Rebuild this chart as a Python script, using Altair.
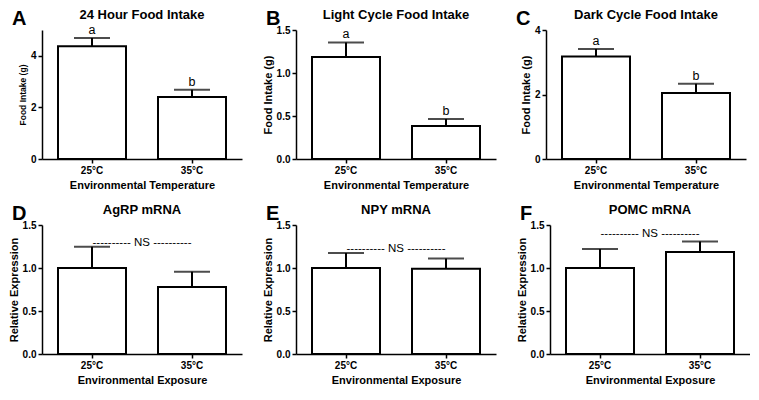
import altair as alt
import pandas as pd

FONT = "Liberation Sans"

groups = ["25°C", "35°C"]

letters_panel = ["A", "B", "C", "D", "E", "F"]
titles = ["24 Hour Food Intake", "Light Cycle Food Intake", "Dark Cycle Food Intake",
          "AgRP mRNA", "NPY mRNA", "POMC mRNA"]
y_titles = ["Food Intake (g)", "Food Intake (g)", "Food Intake (g)",
            "Relative Expression", "Relative Expression", "Relative Expression"]
x_titles = ["Environmental Temperature"] * 3 + ["Environmental Exposure"] * 3

means = [
    [4.37, 2.40],
    [1.186, 0.384],
    [3.18, 2.05],
    [1.00, 0.778],
    [1.00, 0.99],
    [1.00, 1.185],
]
err_top = [
    [4.69, 2.68],
    [1.356, 0.466],
    [3.41, 2.33],
    [1.248, 0.956],
    [1.174, 1.11],
    [1.222, 1.307],
]
sig_letters = [["a", "b"], ["a", "b"], ["a", "b"], None, None, None]
ns_level = [None, None, None, 1.296, 1.222, 1.39]
y_max = [5, 1.5, 4, 1.5, 1.5, 1.5]
y_ticks = [[0, 1, 2, 3, 4, 5], [0, 0.5, 1.0, 1.5], [0, 1, 2, 3, 4],
           [0, 0.5, 1.0, 1.5], [0, 0.5, 1.0, 1.5], [0, 0.5, 1.0, 1.5]]
y_fmt = ["d", ".1f", "d", ".1f", ".1f", ".1f"]
y_title_size = [8.5, 11, 11, 11, 11, 11]

W, H = 200, 129


def panel(i):
    df = pd.DataFrame({"group": groups, "mean": means[i], "err": err_top[i]})
    if sig_letters[i]:
        df["sig"] = sig_letters[i]
    x = alt.X("group:N", sort=groups,
              scale=alt.Scale(paddingInner=0.32, paddingOuter=0.16),
              axis=alt.Axis(title=x_titles[i], labelAngle=0))
    yscale = alt.Scale(domain=[0, y_max[i]], nice=False)
    base = alt.Chart(df).encode(x=x)
    bars = base.mark_bar(fill="white", stroke="black", strokeWidth=2).encode(
        y=alt.Y("mean:Q", scale=yscale,
                axis=alt.Axis(title=y_titles[i], values=y_ticks[i], format=y_fmt[i],
                              titleFontSize=y_title_size[i])))
    rule = base.mark_rule(color="black", strokeWidth=2).encode(
        y="mean:Q", y2="err:Q")
    cap = base.mark_tick(color="black", thickness=2, size=36).encode(y="err:Q")
    layers = [rule, cap, bars]
    if sig_letters[i]:
        layers.append(base.mark_text(baseline="bottom", dy=-1, fontSize=12.5,
                                     font=FONT, color="black").encode(
            y="err:Q", text="sig:N"))
    if ns_level[i] is not None:
        ns_df = pd.DataFrame({"lvl": [ns_level[i]], "t": ["---------- NS ----------"]})
        layers.append(alt.Chart(ns_df).mark_text(fontSize=11.5, font=FONT,
                                                 color="black").encode(
            x=alt.value(W / 2), y="lvl:Q", text="t:N"))
    head_df = pd.DataFrame({"letter": [letters_panel[i]], "title": [titles[i]]})
    layers.append(alt.Chart(head_df).mark_text(
        fontSize=20, fontWeight="bold", font=FONT, align="left", baseline="middle",
        color="black").encode(
        x=alt.value(-30), y=alt.value(-11), text="letter:N"))
    layers.append(alt.Chart(head_df).mark_text(
        fontSize=13, fontWeight="bold", font=FONT, align="center", baseline="middle",
        color="black").encode(
        x=alt.value(W / 2), y=alt.value(-15), text="title:N"))
    return alt.layer(*layers).properties(width=W, height=H)


row1 = alt.hconcat(panel(0), panel(1), panel(2), spacing=20)
row2 = alt.hconcat(panel(3), panel(4), panel(5), spacing=20)
chart = alt.vconcat(row1, row2, spacing=14).properties(
    padding={"left": 0, "top": 1, "right": 0, "bottom": 5}
).configure_view(
    stroke=None
).configure_axis(
    grid=False, domainColor="black", domainWidth=1.5, tickColor="black", tickWidth=1.5,
    tickSize=4, labelFont=FONT, labelFontWeight="bold", labelFontSize=10,
    labelColor="black", titleFont=FONT, titleFontWeight="bold", titleFontSize=11,
    titleColor="black", labelPadding=2, titlePadding=4
).configure_axisY(titlePadding=3)

chart.save("out.html", embed_options={"renderer": "svg", "actions": False})
